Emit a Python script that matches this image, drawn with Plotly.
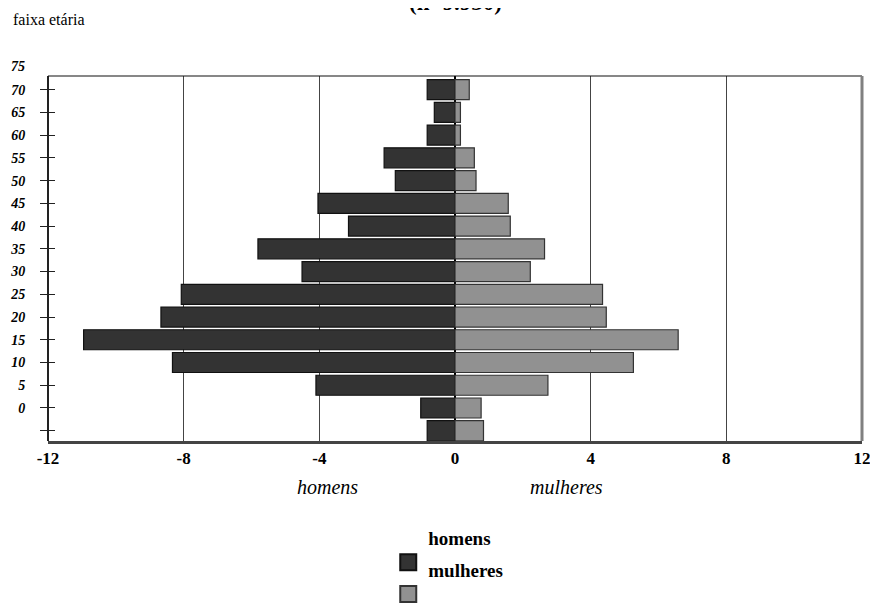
import plotly.graph_objects as go

# ---- data ----
age_pos = [-5, 0, 5, 10, 15, 20, 25, 30, 35, 40, 45, 50, 55, 60, 65, 70]
homens = [0.82, 1.01, 4.10, 8.33, 10.95, 8.67, 8.07, 4.51, 5.81, 3.14, 4.04, 1.76, 2.09, 0.82, 0.61, 0.82]
mulheres = [0.84, 0.77, 2.74, 5.26, 6.58, 4.46, 4.35, 2.22, 2.64, 1.63, 1.57, 0.62, 0.57, 0.16, 0.16, 0.42]
y_tick_vals = [-5, 0, 5, 10, 15, 20, 25, 30, 35, 40, 45, 50, 55, 60, 65, 70]
y_tick_text = ["", "0", "5", "10", "15", "20", "25", "30", "35", "40", "45", "50", "55", "60", "65", "70"]
y_top_label = 75
x_tick_vals = [-12, -8, -4, 0, 4, 8, 12]
x_tick_text = ["-12", "-8", "-4", "0", "4", "8", "12"]

SERIF = "Liberation Serif"
DARK = "#333333"
GREY = "#919191"

fig = go.Figure()
fig.add_trace(go.Bar(
    y=age_pos, x=[-v for v in homens], orientation="h", width=4.4,
    marker=dict(color=DARK, line=dict(color="#111111", width=1.2)),
    name="homens", showlegend=False, yaxis="y",
))
fig.add_trace(go.Bar(
    y=age_pos, x=mulheres, orientation="h", width=4.4,
    marker=dict(color=GREY, line=dict(color="#333333", width=1.2)),
    name="mulheres", showlegend=False, yaxis="y2",
))
# legend proxies (one legend each, so they can be placed like the original)
fig.add_trace(go.Scatter(
    x=[None], y=[None], mode="markers", name="homens<br>&nbsp;", legend="legend",
    marker=dict(symbol="square", size=16, color=DARK, line=dict(color="#111111", width=2)),
))
fig.add_trace(go.Scatter(
    x=[None], y=[None], mode="markers", name="mulheres<br>&nbsp;", legend="legend2",
    marker=dict(symbol="square", size=16, color=GREY, line=dict(color="#333333", width=2)),
))

yr = [-7.26, 73.0]
legend_font = dict(family=SERIF, size=19, weight="bold")
fig.update_layout(
    width=878, height=605,
    margin=dict(l=40, r=24, t=68, b=172, autoexpand=False),
    paper_bgcolor="white", plot_bgcolor="white",
    barmode="overlay",
    font=dict(family=SERIF, color="black"),
    xaxis=dict(
        range=[-12, 12], tickvals=x_tick_vals, ticktext=x_tick_text,
        showgrid=True, gridcolor="#444444", gridwidth=1,
        zeroline=True, zerolinecolor="black", zerolinewidth=1.5,
        showline=True, linecolor="#444444", linewidth=3,
        ticks="", tickfont=dict(family=SERIF, size=17, weight="bold"),
        automargin=False, fixedrange=True,
    ),
    yaxis=dict(
        range=yr, tickvals=y_tick_vals, ticktext=y_tick_text,
        showgrid=False, zeroline=False, showline=False,
        ticks="outside", ticklen=7, tickwidth=1.3, tickcolor="#222222",
        ticklabelstandoff=12, automargin=False,
        tickfont=dict(family=SERIF, size=14, weight="bold", style="italic"),
    ),
    yaxis2=dict(
        range=yr, overlaying="y", side="left", anchor="x",
        tickvals=y_tick_vals, showticklabels=False,
        showgrid=False, zeroline=False, showline=False,
        ticks="inside", ticklen=7, tickwidth=1.3, tickcolor="#222222",
        automargin=False,
    ),
    legend=dict(
        x=0.418, y=-0.2126, xanchor="left", yanchor="top",
        valign="bottom", itemsizing="trace", font=legend_font,
        bgcolor="rgba(0,0,0,0)",
    ),
    legend2=dict(
        x=0.418, y=-0.300, xanchor="left", yanchor="top",
        valign="bottom", itemsizing="trace", font=legend_font,
        bgcolor="rgba(0,0,0,0)",
    ),
    showlegend=True,
)

# frame lines (left, top, right)
fig.add_shape(type="line", xref="paper", yref="paper", x0=0, x1=0, y0=0, y1=1,
              line=dict(color="#222222", width=2))
fig.add_shape(type="line", xref="paper", yref="paper", x0=0, x1=1, y0=1, y1=1,
              line=dict(color="#111111", width=1.2))
fig.add_shape(type="line", xref="paper", yref="paper", x0=1, x1=1, y0=0, y1=1,
              line=dict(color="#808080", width=3))

# texts
fig.add_annotation(text="<b>(n=9.930)</b>", xref="paper", yref="paper", x=0.5, y=1.161,
                   xanchor="center", yanchor="bottom", showarrow=False,
                   font=dict(family=SERIF, size=23))
fig.add_annotation(text="faixa etária", xref="paper", yref="paper", x=-0.0458, y=1.156,
                   xanchor="left", yanchor="middle", showarrow=False,
                   font=dict(family=SERIF, size=16))
# top tick label "75" sits above the plotted range, so place it in paper units
top_label_frac = (y_top_label - yr[0]) / (yr[1] - yr[0])
fig.add_annotation(text=str(y_top_label), xref="paper", yref="paper", x=-0.0258, y=top_label_frac,
                   xanchor="right", yanchor="middle", showarrow=False,
                   font=dict(family=SERIF, size=14, weight="bold", style="italic"))
fig.add_annotation(text="homens", xref="x", yref="paper", x=-3.75, y=-0.126,
                   xanchor="center", yanchor="middle", showarrow=False,
                   font=dict(family=SERIF, size=20, style="italic"))
fig.add_annotation(text="mulheres", xref="x", yref="paper", x=3.3, y=-0.126,
                   xanchor="center", yanchor="middle", showarrow=False,
                   font=dict(family=SERIF, size=20, style="italic"))

fig.write_html("out.html")
